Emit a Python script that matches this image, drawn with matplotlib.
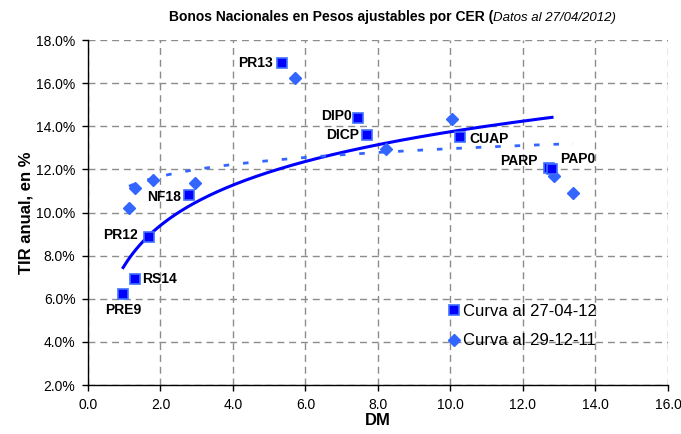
import numpy as np
import matplotlib
matplotlib.use("Agg")
import matplotlib.pyplot as plt
from matplotlib.lines import Line2D
from matplotlib.ticker import FuncFormatter, MultipleLocator

plt.rcParams['font.family'] = ['Liberation Sans', 'DejaVu Sans']

# Curva al 27-04-12 (squares)
bonos = ["PRE9", "RS14", "PR12", "NF18", "PR13", "DIP0", "DICP", "CUAP", "PARP", "PAP0"]
dm_abr = [0.97, 1.31, 1.68, 2.80, 5.34, 7.45, 7.70, 10.25, 12.71, 12.80]
tir_abr = [6.20, 6.90, 8.85, 10.81, 16.95, 14.37, 13.58, 13.51, 12.08, 12.00]

# Curva al 29-12-11 (diamonds)
dm_dic = [1.13, 1.29, 1.79, 2.95, 5.70, 8.22, 10.05, 12.86, 13.38]
tir_dic = [10.19, 11.15, 11.51, 11.38, 16.25, 12.93, 14.34, 11.69, 10.92]

# log trendlines y = a + b*ln(x)
trend_abr = (7.53, 2.70)
trend_dic = (11.12, 0.80)

# label placement (offset points, alignment)
label_pos = {
    "PRE9": ((0, -11.5), "center"),
    "RS14": ((5, 0.5), "left"),
    "PR12": ((-8, 1.5), "right"),
    "NF18": ((-5.8, -1.5), "right"),
    "PR13": ((-6.5, 0), "right"),
    "DIP0": ((-4.3, 2), "right"),
    "DICP": ((-5.8, 0), "right"),
    "CUAP": ((7.2, -1.4), "left"),
    "PARP": ((-8, 5), "right"),
    "PAP0": ((5.5, 7.5), "left"),
}

blue = "#0000FF"
light = "#3366FF"

fig = plt.figure(figsize=(6.81, 4.34), dpi=100)
ax = fig.add_axes([0.1292, 0.1129, 0.8517, 0.7949])

x1 = np.linspace(min(dm_abr), max(dm_abr), 200)
ax.plot(x1, trend_abr[0] + trend_abr[1] * np.log(x1), color=blue, lw=2.2, zorder=3)
x2 = np.linspace(min(dm_dic), max(dm_dic), 200)
ax.plot(x2, trend_dic[0] + trend_dic[1] * np.log(x2), color=light, lw=2.0,
        linestyle=(0, (2, 5)), zorder=3)

ax.plot(dm_dic, tir_dic, linestyle="none", marker="D", ms=6.2, color=light,
        markeredgecolor=light, zorder=4)
ax.plot(dm_abr, tir_abr, linestyle="none", marker="s", ms=7, color=blue,
        markeredgecolor="#3F6FFF", mew=1.2, zorder=5)

for name, x, y in zip(bonos, dm_abr, tir_abr):
    off, ha = label_pos[name]
    ax.annotate(name, (x, y), xytext=off, textcoords="offset points",
                ha=ha, va="center", fontsize=10, fontweight="bold", zorder=6)

ax.set_xlim(0, 16)
ax.set_ylim(2, 18)
ax.xaxis.set_major_locator(MultipleLocator(2))
ax.yaxis.set_major_locator(MultipleLocator(2))
ax.xaxis.set_major_formatter(FuncFormatter(lambda v, p: f"{v:.1f}"))
ax.yaxis.set_major_formatter(FuncFormatter(lambda v, p: f"{v:.1f}%"))
ax.tick_params(direction="out", length=4, width=1, labelsize=10, pad=5)

ax.grid(True, color="#8c8c8c", linestyle=(0, (5, 3.5)), lw=1)
ax.set_axisbelow(True)
for s in ["top", "right"]:
    ax.spines[s].set_visible(False)
for s in ["left", "bottom"]:
    ax.spines[s].set_linewidth(1)

ax.set_xlabel("DM", fontsize=12, fontweight="bold", labelpad=1)
ax.set_ylabel("TIR anual, en %", fontsize=12, fontweight="bold", labelpad=2)

ax.text(0.698, 1.045, "Bonos Nacionales en Pesos ajustables por CER (", transform=ax.transAxes,
        ha="right", va="bottom", fontsize=10, fontweight="bold")
ax.text(0.698, 1.045, "Datos al 27/04/2012)", transform=ax.transAxes,
        ha="left", va="bottom", fontsize=9.5, style="italic")

handles = [
    Line2D([], [], linestyle="none", marker="s", ms=7, color=blue, markeredgecolor="#3F6FFF", mew=1.2),
    Line2D([], [], linestyle="none", marker="D", ms=6.2, color=light),
]
ax.legend(handles, ["Curva al 27-04-12", "Curva al 29-12-11"], loc="center left",
          bbox_to_anchor=(0.605, 0.17), frameon=False, fontsize=12, handlelength=0.8,
          handletextpad=0.15, labelspacing=0.85, borderpad=0)

fig.savefig("out.png", dpi=100)
